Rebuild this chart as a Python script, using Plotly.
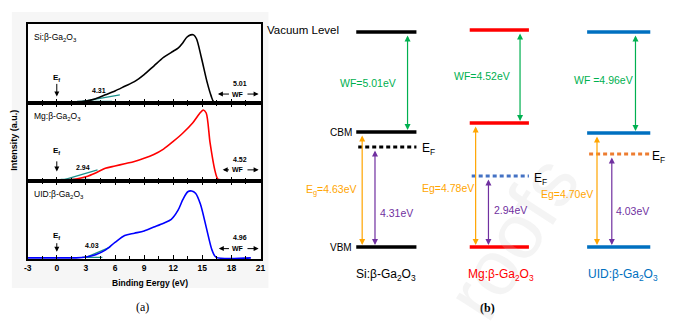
import plotly.graph_objects as go

# ---------------- (a) UPS spectra ----------------
si_x = [-3, 0, 2, 3, 4, 5, 6, 7, 8, 9, 10, 11, 12, 12.5, 13, 13.4, 13.8, 14.1, 14.4, 14.9, 15.5, 15.9, 16.2, 20]
si_y = [0, 0, 0, 0.01, 0.04, 0.09, 0.14, 0.2, 0.26, 0.35, 0.46, 0.57, 0.65, 0.69, 0.76, 0.83, 0.86, 0.86, 0.81, 0.57, 0.25, 0.08, 0.0, 0]
mg_x = [-3, 0, 1, 2, 3, 4, 5, 6, 7, 8, 9, 10, 11, 12, 13, 14, 14.7, 15.1, 15.4, 15.8, 16.3, 16.6, 17, 20]
mg_y = [0, 0, 0, 0.01, 0.04, 0.09, 0.15, 0.18, 0.21, 0.24, 0.28, 0.33, 0.4, 0.5, 0.61, 0.74, 0.86, 0.91, 0.87, 0.48, 0.12, 0.01, 0, 0]
uid_x = [-3, 0, 2, 3, 4, 5, 6, 7, 8, 9, 10, 11, 11.8, 12.5, 13, 13.5, 13.9, 14.3, 14.8, 15.4, 16, 16.4, 20]
uid_y = [0, 0, 0, 0.01, 0.04, 0.1, 0.2, 0.29, 0.32, 0.35, 0.4, 0.45, 0.5, 0.62, 0.76, 0.86, 0.87, 0.84, 0.7, 0.4, 0.1, 0.01, 0]

spec_x = [si_x, mg_x, uid_x]
spec_y = [si_y, mg_y, uid_y]
spec_colors = ["black", "red", "blue"]
sample_names = ["Si:β-Ga<sub>2</sub>O<sub>3</sub>", "Mg:β-Ga<sub>2</sub>O<sub>3</sub>", "UID:β-Ga<sub>2</sub>O<sub>3</sub>"]
onset_vals = ["4.31", "2.94", "4.03"]
wf_vals = ["5.01", "4.52", "4.96"]
tick_vals = [-3, 0, 3, 6, 9, 12, 15, 18, 21]

# tangent (onset) lines: [x0, x1], [y0, y1]
tan_x = [[2.4, 6.5], [0.7, 4.2], [2.9, 5.5]]
tan_y = [[0.0, 0.09], [0.0, 0.13], [0.0, 0.14]]

# ---------------- (b) band diagram ----------------
diag_names = ["Si:β-Ga<sub>2</sub>O<sub>3</sub>", "Mg:β-Ga<sub>2</sub>O<sub>3</sub>", "UID:β-Ga<sub>2</sub>O<sub>3</sub>"]
wf_ev = ["WF=5.01eV", "WF=4.52eV", "WF =4.96eV"]
eg_ev = ["E<sub>g</sub>=4.63eV", "Eg=4.78eV", "Eg=4.70eV"]
efv_ev = ["4.31eV", "2.94eV", "4.03eV"]
level_colors = ["black", "red", "#0070c0"]
ef_colors = ["black", "#4472c4", "#ed7d31"]

# schematic layout of the diagram (screen-like units)
col_x0 = [357, 472, 591]
col_x1 = [418, 532, 655]
vac_y = [32, 30, 32]
cbm_y = [132, 123, 133]
ef_y = [147, 176, 154]
vbm_y = [247, 247, 247]

W, H = 676, 335
fig = go.Figure()

ydoms = [[0.6925, 0.9284], [0.4597, 0.6925], [0.2269, 0.4597]]
xdom = [24 / W, 260 / W]
ax_names = ["", "2", "3"]
ef_text_y = [0.31, 0.37, 0.29]
ef_arr = [[0.25, 0.07], [0.26, 0.11], [0.21, 0.08]]
onset_pos = [[4.4, 0.14], [2.7, 0.16], [3.6, 0.16]]
wf_text_y = [0.24, 0.27, 0.27]
wf_line_y = [0.1, 0.13, 0.12]
wf_left = [16.6, 17.1, 16.7]

annotations = []
shapes = []

# background of panel (a) image (paper coords -> below all subplots)
shapes.append(dict(type="rect", xref="paper", yref="paper", x0=8 / W, x1=268 / W, y0=1 - 288 / H, y1=1 - 12 / H,
                   fillcolor="#f6f6f6", line=dict(width=0), layer="below"))
shapes.append(dict(type="rect", xref="paper", yref="paper", x0=24 / W, x1=260 / W, y0=1 - 259 / H, y1=1 - 24 / H,
                   fillcolor="white", line=dict(width=0), layer="below"))

lab_font = dict(family="Arial", size=8, color="black")
for i in range(3):
    xa = "x" + ax_names[i]
    ya = "y" + ax_names[i]
    fig.add_trace(go.Scatter(x=tan_x[i], y=tan_y[i], mode="lines",
                             line=dict(color="#1a8f8a", width=1.3), xaxis=xa, yaxis=ya, hoverinfo="skip"))
    fig.add_trace(go.Scatter(x=[tan_x[i][0] - 0.3, tan_x[i][1] - 0.8], y=[0.005, 0.005], mode="lines",
                             line=dict(color="#1a8f8a", width=1.3), xaxis=xa, yaxis=ya, hoverinfo="skip"))
    fig.add_trace(go.Scatter(x=spec_x[i], y=spec_y[i], mode="lines", line_shape="spline",
                             line=dict(color=spec_colors[i], width=1.6, smoothing=0.8), xaxis=xa, yaxis=ya))
    annotations.append(dict(x=-2.6, y=0.83, xref=xa, yref=ya, text=sample_names[i], showarrow=False,
                            xanchor="left", yanchor="middle", font=dict(family="Arial", size=8.5, color="black")))
    annotations.append(dict(x=0, y=ef_text_y[i], xref=xa, yref=ya, text="<b>E<sub>f</sub></b>", showarrow=False,
                            font=lab_font))
    annotations.append(dict(x=0, y=ef_arr[i][1], ax=0, ay=ef_arr[i][0], xref=xa, yref=ya, axref=xa, ayref=ya,
                            text="", showarrow=True, arrowhead=2, arrowsize=1, arrowwidth=1, arrowcolor="black"))
    annotations.append(dict(x=onset_pos[i][0], y=onset_pos[i][1], xref=xa, yref=ya, text="<b>" + onset_vals[i] + "</b>",
                            showarrow=False, font=dict(family="Arial", size=7, color="black")))
    annotations.append(dict(x=18.9, y=wf_text_y[i], xref=xa, yref=ya, text="<b>" + wf_vals[i] + "</b>",
                            showarrow=False, font=dict(family="Arial", size=7, color="black")))
    annotations.append(dict(x=wf_left[i], y=wf_line_y[i], ax=17.9, ay=wf_line_y[i], xref=xa, yref=ya,
                            axref=xa, ayref=ya, text="", showarrow=True, arrowhead=2, arrowsize=1,
                            arrowwidth=1, arrowcolor="black"))
    annotations.append(dict(x=20.8, y=wf_line_y[i], ax=19.5, ay=wf_line_y[i], xref=xa, yref=ya,
                            axref=xa, ayref=ya, text="", showarrow=True, arrowhead=2, arrowsize=1,
                            arrowwidth=1, arrowcolor="black"))
    annotations.append(dict(x=18.7, y=wf_line_y[i], xref=xa, yref=ya, text="<b>WF</b>", showarrow=False,
                            font=dict(family="Arial", size=7, color="black")))

axis_common = dict(range=[-3, 21], showline=True, linecolor="black", linewidth=2, ticks="inside",
                   ticklen=4, tickwidth=1, tickcolor="black", tickmode="array", tickvals=tick_vals,
                   showgrid=False, zeroline=False,
                   minor=dict(dtick=1.5, tick0=-3, ticks="inside", ticklen=3, tickcolor="black"),
                   domain=xdom)
layout = dict(
    width=W, height=H, margin=dict(l=0, r=0, t=0, b=0),
    paper_bgcolor="white", plot_bgcolor="rgba(0,0,0,0)", showlegend=False,
)
for i in range(3):
    xn = "xaxis" + ax_names[i]
    yn = "yaxis" + ax_names[i]
    xa = dict(axis_common)
    xa["anchor"] = "y" + ax_names[i]
    xa["mirror"] = True if i == 0 else "ticks"
    xa["showticklabels"] = (i == 2)
    if i == 2:
        xa["tickfont"] = dict(family="Arial", size=8.5, color="black", weight="bold")
        xa["ticktext"] = [str(t) for t in tick_vals]
    layout[xn] = xa
    layout[yn] = dict(domain=ydoms[i], range=[-0.015, 1.0], showline=True, mirror=True, linecolor="black",
                      linewidth=2, showticklabels=False, ticks="", showgrid=False, zeroline=False,
                      anchor="x" + ax_names[i])

layout["xaxis4"] = dict(domain=[0, 1], range=[0, W], visible=False, anchor="y4")
layout["yaxis4"] = dict(domain=[0, 1], range=[H, 0], visible=False, anchor="x4")

annotations.append(dict(x=10, y=140, xref="x4", yref="y4", text="<b>Intensity (a.u.)</b>", textangle=-90,
                        showarrow=False, font=dict(family="Arial", size=9, color="black")))
annotations.append(dict(x=148, y=283, xref="x4", yref="y4", text="<b>Binding Eergy (eV)</b>",
                        showarrow=False, font=dict(family="Arial", size=8.5, color="black")))
annotations.append(dict(x=140, y=307, xref="x4", yref="y4", text="(a)",
                        showarrow=False, font=dict(family="Times New Roman", size=12, color="black")))
annotations.append(dict(x=490, y=308, xref="x4", yref="y4", text="<b>(b)</b>",
                        showarrow=False, font=dict(family="Times New Roman", size=12, color="black")))

# watermark
annotations.append(dict(x=515, y=238, xref="x4", yref="y4", text="roofs", textangle=-57,
                        showarrow=False, font=dict(family="Arial", size=78, color="rgba(200,200,200,0.2)")))

# band diagram
wf_arrow_x = [409, 523, 640]
eg_arrow_x = [363, 478, 601]
efa_x = [376, 491, 616]
wf_lab = [(369, 83), (484, 76), (608, 80)]
eg_lab = [(332, 190), (450, 188), (571, 194)]
efv_lab = [(398, 213), (513, 210), (637, 211)]
ef_lab = [(422, 149), (535, 179), (655, 157)]
name_x = [387, 504, 627]
dfont = "Arial"
for i in range(3):
    for yy in (vac_y[i], cbm_y[i], vbm_y[i]):
        fig.add_trace(go.Scatter(x=[col_x0[i], col_x1[i]], y=[yy, yy], mode="lines",
                                 line=dict(color=level_colors[i], width=3.5), xaxis="x4", yaxis="y4"))
    fig.add_trace(go.Scatter(x=[col_x0[i] + 2, col_x1[i]], y=[ef_y[i], ef_y[i]], mode="lines",
                             line=dict(color=ef_colors[i], width=3, dash="4px,3px"), xaxis="x4", yaxis="y4"))
    arrows = [(wf_arrow_x[i], vac_y[i] + 2, cbm_y[i] - 2, "#00b050"),
              (eg_arrow_x[i], cbm_y[i] + 2, vbm_y[i] - 2, "#ffa500"),
              (efa_x[i], ef_y[i] + 2, vbm_y[i] - 2, "#7030a0")]
    for (ax_, y0, y1, c) in arrows:
        annotations.append(dict(x=ax_, y=y1, ax=ax_, ay=y0, xref="x4", yref="y4", axref="x4", ayref="y4",
                                text="", showarrow=True, arrowhead=2, arrowside="end+start", arrowsize=1,
                                arrowwidth=1.2, arrowcolor=c))
    annotations.append(dict(x=wf_lab[i][0], y=wf_lab[i][1], xref="x4", yref="y4", text=wf_ev[i],
                            showarrow=False, font=dict(family=dfont, size=10.5, color="#00b050")))
    annotations.append(dict(x=eg_lab[i][0], y=eg_lab[i][1], xref="x4", yref="y4", text=eg_ev[i],
                            showarrow=False, font=dict(family=dfont, size=10.5, color="#ffa500")))
    annotations.append(dict(x=efv_lab[i][0], y=efv_lab[i][1], xref="x4", yref="y4", text=efv_ev[i],
                            showarrow=False, font=dict(family=dfont, size=10.5, color="#7030a0")))
    annotations.append(dict(x=ef_lab[i][0], y=ef_lab[i][1], xref="x4", yref="y4", text="E<sub>F</sub>",
                            xanchor="left", showarrow=False, font=dict(family=dfont, size=12, color="black")))
    annotations.append(dict(x=name_x[i], y=275, xref="x4", yref="y4", text=diag_names[i],
                            showarrow=False, font=dict(family=dfont, size=12, color=level_colors[i])))

annotations.append(dict(x=342, y=30, xref="x4", yref="y4", text="Vacuum Level", xanchor="right",
                        showarrow=False, font=dict(family=dfont, size=11.5, color="black")))
annotations.append(dict(x=355, y=132, xref="x4", yref="y4", text="CBM", xanchor="right",
                        showarrow=False, font=dict(family=dfont, size=10, color="black")))
annotations.append(dict(x=355, y=247, xref="x4", yref="y4", text="VBM", xanchor="right",
                        showarrow=False, font=dict(family=dfont, size=10, color="black")))

layout["annotations"] = annotations
layout["shapes"] = shapes
fig.update_layout(**layout)
fig.write_html("out.html")
